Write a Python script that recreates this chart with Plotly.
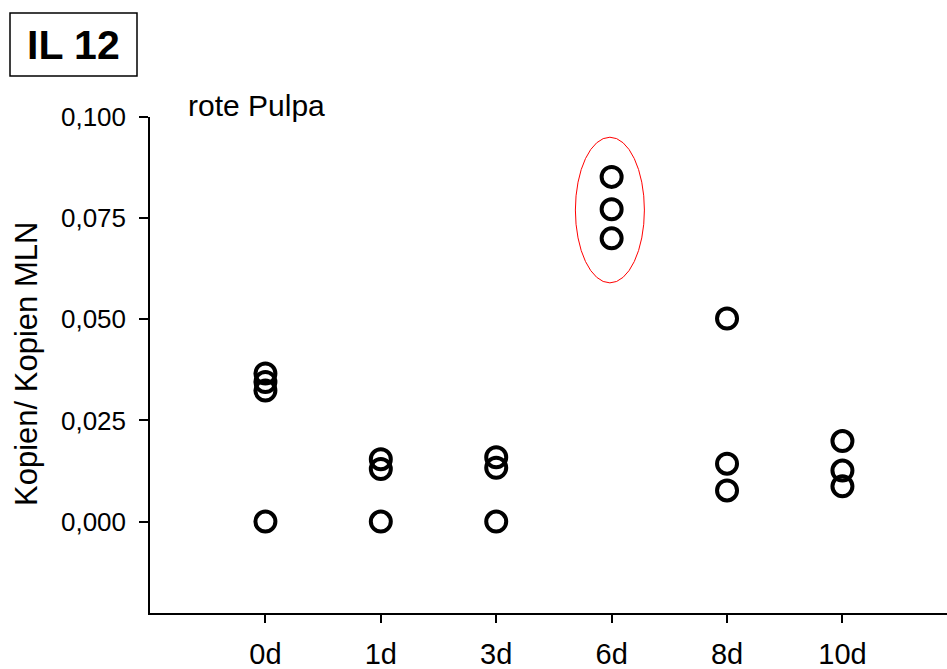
import plotly.graph_objects as go

categories = ["0d", "1d", "3d", "6d", "8d", "10d"]
vals_0d = [0.0366, 0.0345, 0.0324, 0.0]
vals_1d = [0.0154, 0.0130, 0.0]
vals_3d = [0.0159, 0.0133, 0.0]
vals_6d = [0.0852, 0.0772, 0.0700]
vals_8d = [0.0502, 0.0143, 0.0077]
vals_10d = [0.0199, 0.0126, 0.0087]
series = [vals_0d, vals_1d, vals_3d, vals_6d, vals_8d, vals_10d]
ytick_vals = [0.0, 0.025, 0.05, 0.075, 0.1]

xs, ys = [], []
for cat, vals in zip(categories, series):
    for v in vals:
        xs.append(cat)
        ys.append(v)

FONT = "Liberation Sans, Arial, sans-serif"
W, H = 947, 669
L, R, T, B = 150, 0, 117, 56
PW, PH = W - L - R, H - T - B

def px(x):
    return (x - L) / PW

def py(y):
    return (H - B - y) / PH

fig = go.Figure()
fig.add_trace(go.Scatter(
    x=xs, y=ys, mode="markers",
    marker=dict(symbol="circle-open", size=20, color="black",
                line=dict(width=4, color="black")),
    showlegend=False, hoverinfo="x+y",
))

fig.update_layout(
    template="none",
    width=W, height=H,
    margin=dict(l=L, r=R, t=T, b=B, pad=0, autoexpand=False),
    paper_bgcolor="white", plot_bgcolor="white",
    separators=",.",
    font=dict(family=FONT, color="black"),
    xaxis=dict(
        type="category", categoryorder="array", categoryarray=categories,
        range=[-1.0, 5.906], showgrid=False, zeroline=False, automargin=False,
        showline=True, linecolor="black", linewidth=1.5,
        ticks="outside", ticklen=8, tickwidth=1.5, tickcolor="black",
        tickfont=dict(size=29, family=FONT, color="black"),
        ticklabelstandoff=6,
    ),
    yaxis=dict(
        range=[-0.0226, 0.1], showgrid=False, zeroline=False, automargin=False,
        showline=True, linecolor="black", linewidth=1.5,
        tickvals=ytick_vals, tickformat=".3f",
        ticks="outside", ticklen=9, tickwidth=1.5, tickcolor="black",
        tickfont=dict(size=26, family=FONT, color="black"),
        ticklabelstandoff=8,
    ),
    shapes=[
        dict(type="circle", xref="x", yref="y", x0=2.686, x1=3.284,
             y0=0.059, y1=0.095, line=dict(color="red", width=1)),
        dict(type="rect", xref="paper", yref="paper",
             x0=px(10), x1=px(137), y0=py(76), y1=py(13),
             line=dict(color="black", width=1.5), fillcolor="white"),
    ],
    annotations=[
        dict(text="<b>IL 12</b>", xref="paper", yref="paper",
             x=px(73), y=py(45), xanchor="center", yanchor="middle",
             showarrow=False, font=dict(size=41, family=FONT, color="black")),
        dict(text="rote Pulpa", xref="paper", yref="paper",
             x=px(186), y=py(105), xanchor="left", yanchor="middle",
             showarrow=False, font=dict(size=30, family=FONT, color="black")),
        dict(text="Kopien/ Kopien MLN", xref="paper", yref="paper",
             x=px(26), y=py(364), xanchor="center", yanchor="middle",
             textangle=-90, showarrow=False,
             font=dict(size=31, family=FONT, color="black")),
    ],
)

fig.write_html("out.html")
